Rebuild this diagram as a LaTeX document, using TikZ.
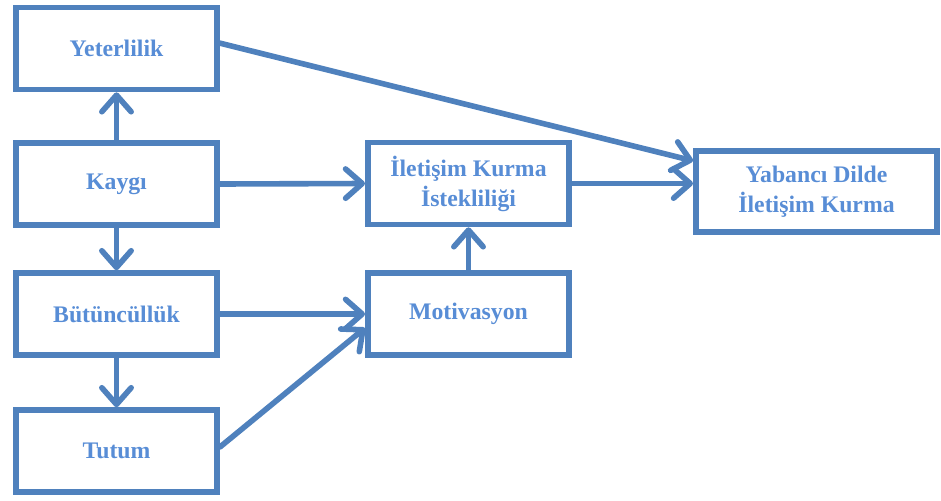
\documentclass[tikz,border=0pt]{standalone}
\usepackage{fontspec}
\setmainfont{Liberation Serif}
\usetikzlibrary{arrows.meta}
\definecolor{boxblue}{RGB}{79,129,189}
\definecolor{textblue}{RGB}{88,141,214}
\tikzset{
  box/.style={draw=boxblue, line width=4.2pt, fill=white, align=center,
    text=textblue, font=\fontsize{17.8}{22.5}\selectfont\bfseries,
    minimum width=151pt, minimum height=61.5pt, inner sep=2pt},
  arr/.style={draw=boxblue, line width=4.2pt, line cap=round, line join=round,
    -{Straight Barb[length=12.5pt,width=22pt,line cap=round,line join=round]}}
}
\begin{document}
\begin{tikzpicture}[x=0.75pt,y=-0.75pt]
            \useasboundingbox (0,0) rectangle (941,500);

            % Draw the boxes
            \node[box] (yeter) at (116.5,48.5) {Yeterlilik};
            \node[box] (kaygi) at (116.5,184) {Kaygı};
            \node[box] (butun) at (116.5,314) {Bütüncüllük};
            \node[box] (tutum) at (116.5,451) {Tutum};
            \node[box] (ilet) at (468.5,183.5) {İletişim Kurma\\İstekliliği};
            \node[box] (motiv) at (468.5,314) {Motivasyon};
            \node[box, minimum width=181pt, minimum height=61pt] (yabanci) at (816.5,191.5) {Yabancı Dilde\\İletişim Kurma};

            % Draw the arrows
            \draw[arr] (kaygi) -- (yeter);
            \draw[arr] (kaygi) -- (butun);
            \draw[arr] (butun) -- (tutum);
            \draw[arr] (kaygi.east) -- (ilet.west);
            \draw[arr] (butun.east) -- (motiv.west);
            \draw[arr] ([yshift=3pt]tutum.east) -- ([yshift=-10.5pt]motiv.west);
            \draw[arr] (motiv) -- (ilet);
            \draw[arr] ([yshift=4pt]yeter.east) -- ([yshift=23pt]yabanci.west);
            \draw[arr] (ilet.east) -- ([yshift=6pt]yabanci.west);

        \end{tikzpicture}
\end{document}
